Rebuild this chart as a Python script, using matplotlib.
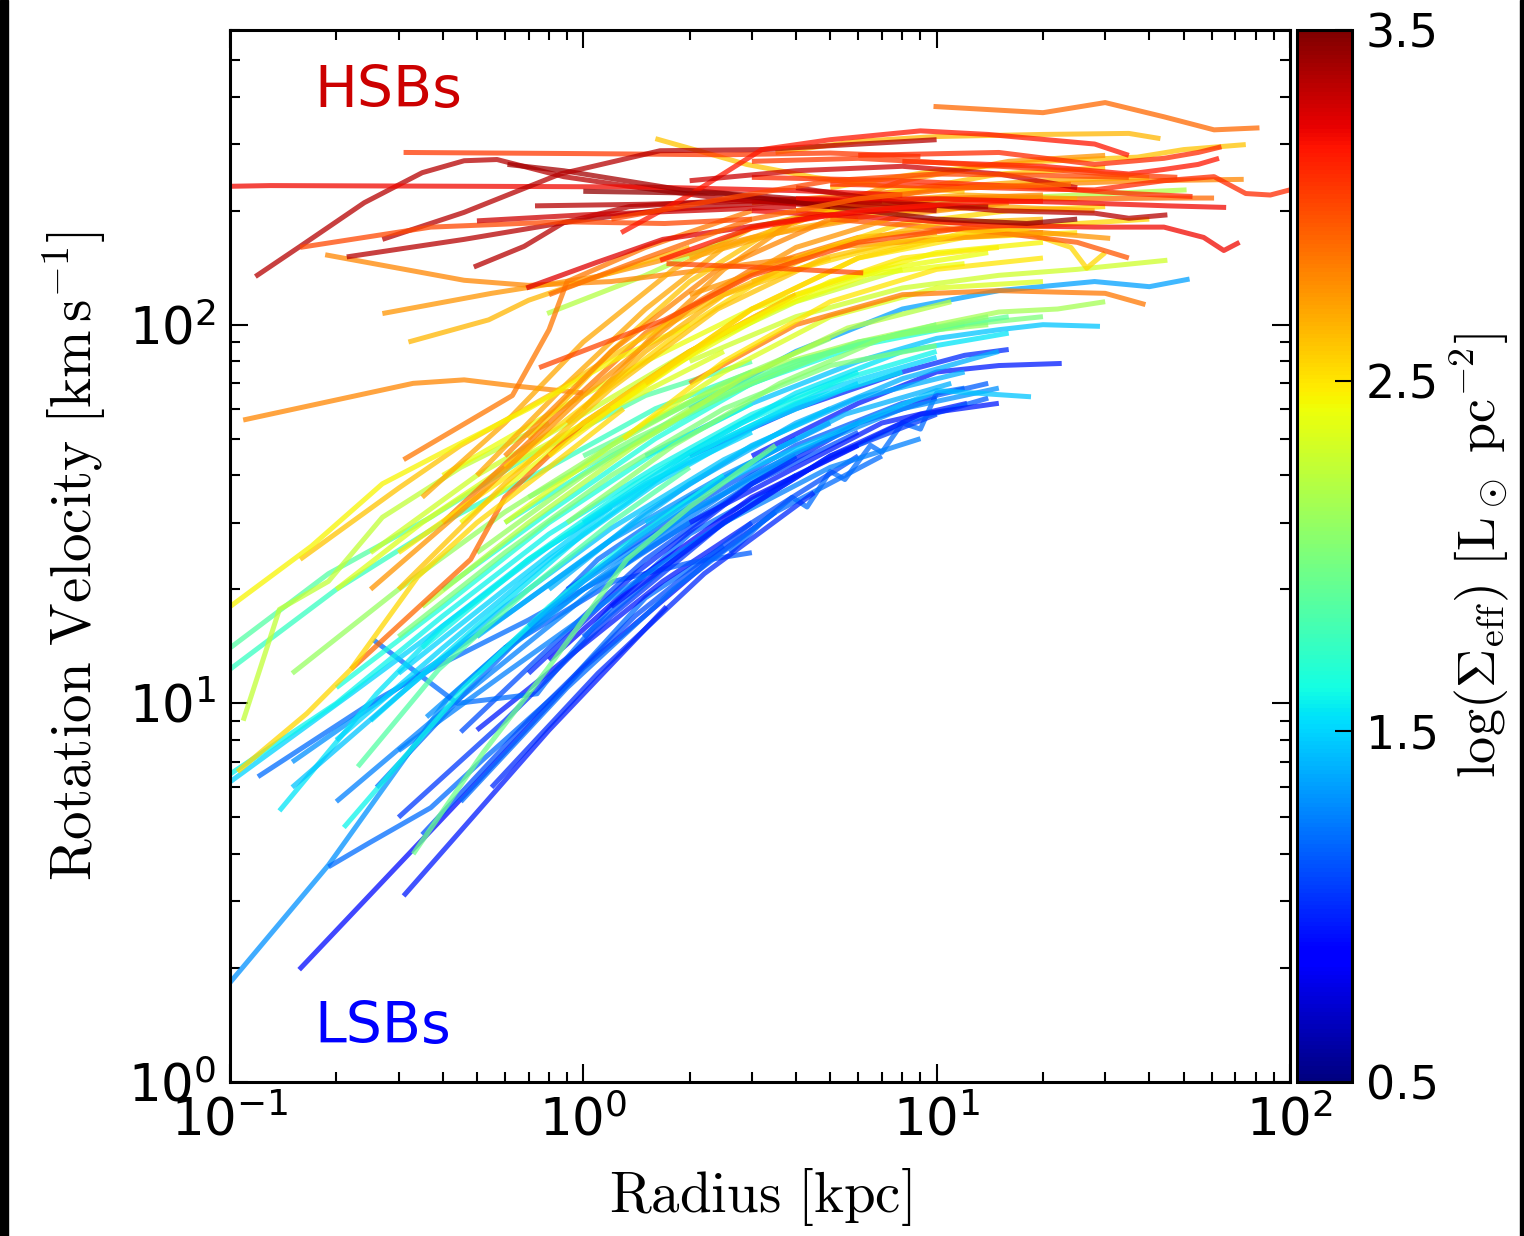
import numpy as np
import matplotlib
matplotlib.use("Agg")
import matplotlib.pyplot as plt
from matplotlib.patches import Rectangle

# rotation curves: (radius [kpc], velocity [km/s])
# grouped by rough colour band, each with its log surface brightness

hsb_sigma = [3.35, 3.2, 3.05, 3.4, 3.35, 3.35, 3.35, 3.35, 3.0, 3.15,
             3.1, 3.2, 3.35, 3.1, 3.2, 3.1, 3.15, 3.0, 3.0, 3.45,
             3.25, 3.15, 3.3, 3.3, 3.05, 2.9, 3.0]
hsb_curves = [
    [(0.118, 134), (0.158, 161), (0.24, 210), (0.35, 252), (0.46, 271), (0.57, 273), (0.88, 246), (1.35, 232), (2.5, 215), (5, 205)],
    [(0.1, 232), (0.13, 233), (0.5, 232), (1.5, 231), (4, 226), (8, 220)],
    [(0.31, 285), (1, 283), (2.5, 281), (5, 284), (9, 278)],
    [(0.61, 265), (0.88, 255), (1.9, 227), (4, 215), (8, 208), (14, 205)],
    [(0.27, 168), (0.46, 198), (0.86, 250), (1.65, 288), (3.2, 290), (10, 308)],
    [(0.214, 151), (0.46, 168), (0.88, 186), (1.67, 201), (3.5, 210), (7, 212)],
    [(0.49, 142), (0.68, 161), (0.88, 186), (1.35, 205), (3, 215), (6, 212)],
    [(0.73, 206), (1.5, 208), (3, 212), (6, 206), (10, 200)],
    [(0.158, 160), (0.37, 181), (0.88, 187), (1.7, 185), (3, 190)],
    [(1.28, 175), (2, 220), (3.2, 290), (5, 308), (9, 325), (14, 318), (28, 300), (35, 280)],
    [(5, 235), (10, 232), (20, 228), (28, 227), (44, 240), (61, 246), (75, 222), (88, 220), (100, 227)],
    [(3, 200), (8, 190), (14, 183), (28, 181), (44, 181), (57, 170), (65, 157), (72, 165)],
    [(4, 230), (8, 210), (15, 200), (28, 197), (35, 191), (45, 195)],
    [(3, 245), (8, 240), (20, 230), (35, 222), (53, 218)],
    [(4, 215), (10, 215), (25, 210), (45, 206), (66, 204)],
    [(6, 280), (15, 285), (28, 265), (44, 275), (55, 285), (64, 295)],
    [(8, 270), (20, 262), (35, 250), (44, 257), (55, 265), (63, 275)],
    [(0.75, 77), (1.7, 103), (3, 135), (6, 165), (12, 180), (20, 185)],
    [(1.72, 145), (3, 142), (6.2, 137)],
    [(1.0, 225), (2.5, 222), (5, 205), (10, 190), (18, 185), (25, 190)],
    [(0.69, 125), (1.09, 146), (1.68, 168), (2.9, 181), (5, 195), (10, 205)],
    [(1.65, 148), (3, 180), (6, 200), (12, 210), (20, 212)],
    [(2, 240), (4, 255), (8, 262), (15, 250), (25, 230)],
    [(0.5, 188), (1, 195), (2, 200), (4, 205)],
    [(3, 270), (6, 275), (10, 268), (20, 258), (30, 250), (48, 245)],
    [(0.8, 120), (1.5, 150), (3, 190), (6, 215), (12, 230), (24, 235)],
    [(1.2, 190), (2.5, 215), (5, 240), (10, 250), (20, 248), (35, 245)],
]

mid_sigma = [2.9, 2.65, 2.6, 2.8, 2.9, 2.85, 2.8, 2.75, 2.65, 2.8,
             2.85, 2.9, 2.6, 2.7, 2.7, 2.6, 2.85, 2.75, 2.55, 2.5,
             2.6, 2.55, 2.45, 2.7, 2.55, 2.95, 2.75, 2.5, 2.65, 2.45,
             2.75, 2.55, 2.6, 2.8, 2.5]
mid_curves = [
    [(9.8, 377), (20, 363), (30, 386), (44, 354), (61, 327), (82, 331)],
    [(3.5, 285), (6, 305), (10, 314), (20, 318), (35, 320), (43, 310)],
    [(5, 230), (10, 255), (20, 270), (37, 277), (50, 290), (75, 299)],
    [(3, 210), (8, 225), (20, 235), (40, 240), (74, 242)],
    [(4, 200), (10, 215), (25, 215), (45, 216), (61, 216)],
    [(2, 70), (4, 100), (8, 120), (15, 123), (30, 121), (39, 113)],
    [(0.186, 153), (0.46, 131), (0.7, 127), (1.2, 130), (2, 138), (4, 150)],
    [(0.27, 107), (0.55, 121), (1.09, 134), (1.67, 148), (3, 170), (6, 190)],
    [(0.32, 90), (0.54, 103), (0.7, 116), (1.1, 134), (2, 160)],
    [(0.109, 56), (0.33, 70), (0.46, 71.5), (0.63, 69), (1.0, 66)],
    [(0.31, 44), (0.63, 65), (0.8, 97), (0.9, 130), (1.5, 160), (3, 200)],
    [(0.22, 12.3), (0.48, 24), (0.6, 35), (1.0, 55), (2, 85), (4, 120)],
    [(1.6, 310), (2.9, 265), (4.5, 245), (7, 232), (12, 225)],
    [(0.35, 35), (0.6, 55), (1.0, 90), (1.8, 140), (3, 180), (6, 210), (12, 220), (25, 215)],
    [(0.5, 40), (0.9, 70), (1.5, 110), (2.5, 160), (5, 200), (10, 230), (20, 240), (40, 245)],
    [(0.7, 50), (1.2, 85), (2, 130), (3.5, 180), (7, 220), (15, 250), (30, 260)],
    [(0.4, 30), (0.8, 55), (1.5, 95), (3, 140), (6, 170), (12, 180), (20, 175)],
    [(1.0, 60), (1.6, 95), (2.5, 140), (4, 190), (8, 240), (16, 270), (30, 280)],
    [(0.6, 42), (1.1, 65), (2, 100), (4, 150), (8, 185), (16, 200), (30, 205)],
    [(0.8, 45), (1.5, 70), (3, 110), (6, 150), (12, 170), (25, 175)],
    [(0.158, 24), (0.3, 37), (0.45, 48), (0.8, 65), (1.4, 90), (2.5, 120), (5, 150)],
    [(0.105, 6.6), (0.165, 9.4), (0.22, 12.3), (0.34, 21.6), (0.5, 30), (0.8, 42), (1.3, 60)],
    [(0.1, 18), (0.17, 26), (0.27, 38), (0.4, 46), (0.7, 60), (1.2, 80), (2, 100)],
    [(2, 150), (4, 180), (8, 200), (15, 205), (28, 200)],
    [(3, 130), (6, 155), (10, 170), (18, 175), (24, 160), (26.6, 141), (30, 155)],
    [(5, 190), (15, 175), (25, 165), (35, 150)],
    [(2, 120), (5, 160), (12, 170), (20, 175), (31, 169)],
    [(0.3, 25), (0.5, 35), (1, 55), (2, 85), (4, 120), (8, 150), (15, 160)],
    [(0.9, 55), (1.5, 85), (2.5, 120), (5, 160), (10, 185), (20, 190)],
    [(1.2, 60), (2.5, 95), (5, 130), (10, 155), (20, 165)],
    [(0.25, 20), (0.5, 35), (1, 65), (2, 110), (4, 160), (8, 195), (16, 210)],
    [(1.5, 70), (3, 110), (6, 150), (12, 175), (25, 185), (40, 190)],
    [(0.3, 20), (0.6, 38), (1.2, 68), (2.4, 110), (4.8, 150), (10, 175)],
    [(0.6, 45), (1.2, 85), (2.4, 140), (5, 190), (10, 215), (20, 220)],
    [(1.3, 50), (2.5, 80), (5, 115), (10, 140), (20, 150)],
]

green_sigma = [2.2, 2.3, 2.15, 2.1, 2.0, 1.85, 1.75, 2.25, 1.85, 1.95,
               2.3, 2.4, 2.0, 1.9, 2.35, 2.35, 2.1, 2.4, 2.05, 2.2]
green_curves = [
    [(0.79, 107), (1.5, 135), (3, 181), (6, 205), (12, 213), (25, 220), (51, 227)],
    [(2, 80), (4, 105), (8, 125), (15, 135), (25, 140), (45, 148)],
    [(1.5, 55), (3, 75), (6, 90), (10, 100), (15, 108), (22, 110), (30, 115)],
    [(0.5, 25), (1, 40), (2, 60), (4, 80), (8, 95), (14, 100)],
    [(0.3, 15), (0.6, 25), (1.2, 40), (2.5, 60), (5, 78), (10, 88)],
    [(0.1, 14), (0.19, 22), (0.37, 31), (0.7, 45), (1.5, 65), (3, 80)],
    [(0.1, 12.3), (0.2, 20), (0.4, 30), (0.8, 42), (1.6, 60), (3, 75)],
    [(0.109, 9), (0.138, 17.7), (0.19, 21), (0.27, 31), (0.45, 42), (0.8, 55)],
    [(0.23, 6.8), (0.39, 12.3), (0.7, 20), (1.2, 30), (2, 42)],
    [(0.33, 4.0), (0.52, 7.4), (0.79, 12.3), (1.33, 24), (2, 33), (3.5, 48)],
    [(0.25, 25), (0.5, 40), (1, 58), (2, 85), (4, 115), (8, 140)],
    [(0.4, 40), (0.8, 58), (1.5, 80), (3, 110), (6, 135), (12, 145)],
    [(0.7, 35), (1.4, 50), (3, 70), (6, 90), (12, 100), (20, 105)],
    [(1, 45), (2, 62), (4, 80), (8, 95), (16, 105)],
    [(0.2, 20), (0.35, 30), (0.6, 42), (1.2, 60), (2.5, 85)],
    [(0.6, 30), (1.2, 48), (2.5, 75), (5, 105), (10, 125), (20, 130)],
    [(0.15, 12), (0.3, 20), (0.6, 32), (1.2, 48), (2.5, 70), (5, 92)],
    [(0.45, 30), (0.9, 50), (1.8, 78), (3.5, 110), (7, 140), (14, 155)],
    [(0.9, 30), (1.8, 48), (3.6, 70), (7, 92), (14, 105)],
    [(0.35, 18), (0.7, 30), (1.4, 48), (2.8, 72), (5.6, 98), (11, 115)],
]

cyan_sigma = [1.35, 1.45, 1.45, 1.5, 1.55, 1.6, 1.6, 1.5, 1.4, 1.65,
              1.7, 1.55, 1.4, 1.45, 1.5, 1.6, 1.4, 1.55, 1.65]
cyan_curves = [
    [(2, 60), (4, 85), (8, 110), (15, 123), (28, 130), (40, 126), (52, 132)],
    [(1.5, 45), (3, 62), (6, 80), (10, 92), (15, 97), (20, 100), (29, 99)],
    [(1.5, 30), (3, 42), (6, 55), (10, 67), (18.5, 64.5)],
    [(0.1, 6.2), (0.22, 10.6), (0.4, 16), (0.8, 26), (1.5, 38), (3, 52)],
    [(0.138, 5.2), (0.26, 10.6), (0.4, 16), (0.7, 24), (1.2, 33)],
    [(0.21, 4.7), (0.46, 11), (0.8, 18), (1.3, 26), (2.5, 40)],
    [(0.1, 6.5), (0.2, 10), (0.4, 17), (0.8, 28), (1.6, 42), (3, 58), (6, 75)],
    [(0.3, 12), (0.6, 20), (1.2, 33), (2.5, 50), (5, 68), (10, 82)],
    [(0.5, 15), (1, 24), (2, 38), (4, 55), (8, 72), (15, 85)],
    [(0.4, 20), (0.8, 32), (1.6, 50), (3, 70), (6, 88), (12, 100)],
    [(0.6, 30), (1.2, 45), (2.5, 65), (5, 85), (10, 100)],
    [(0.25, 9), (0.5, 16), (1, 28), (2, 45), (4, 62), (8, 75)],
    [(0.8, 20), (1.5, 32), (3, 48), (6, 64), (12, 75)],
    [(0.15, 6), (0.3, 10.5), (0.6, 18), (1.2, 29), (2.5, 44), (5, 60)],
    [(0.2, 8), (0.4, 14), (0.8, 24), (1.6, 38), (3.2, 55), (6, 70)],
    [(0.35, 14), (0.7, 24), (1.4, 38), (2.8, 55), (5.5, 72), (10, 85)],
    [(0.7, 16), (1.4, 27), (2.8, 42), (5.5, 58), (11, 70)],
    [(1, 30), (2, 46), (4, 66), (8, 85), (16, 95)],
    [(0.2, 11), (0.4, 18), (0.8, 30), (1.6, 46), (3, 62)],
]

blue_sigma = [1.3, 1.2, 0.9, 0.95, 1.2, 1.2, 1.3, 1.1, 0.95, 1.2,
              0.95, 1.0, 0.95, 1.2, 1.15, 1.05, 1.25, 1.0, 1.3, 1.15,
              0.9, 1.1, 1.2, 1.0, 1.25, 0.95, 1.15, 1.3]
blue_curves = [
    [(0.1, 1.83), (0.19, 3.74), (0.41, 10.2), (0.6, 14), (1.0, 20), (2, 30)],
    [(0.19, 3.7), (0.25, 4.3), (0.37, 5.3), (0.52, 7.1), (0.88, 11), (1.5, 19), (2.5, 26)],
    [(0.157, 1.98), (0.5, 6.2), (1.0, 12.4), (2.3, 24), (3.5, 32)],
    [(0.31, 3.1), (0.8, 8.5), (1.72, 18)],
    [(0.12, 6.4), (0.25, 10), (0.37, 12.3), (0.7, 16.6), (1.2, 22), (2, 30), (4, 45)],
    [(0.26, 6.0), (0.46, 10.6), (1.1, 24), (2, 35), (4, 50)],
    [(0.36, 9.2), (0.6, 14), (1.0, 21), (2, 32), (4, 45)],
    [(0.45, 8.4), (0.8, 14), (1.5, 24), (3, 38), (6, 52)],
    [(0.5, 8.5), (1.68, 21), (3, 30)],
    [(0.255, 14.7), (0.44, 10), (0.74, 10.6), (0.78, 11.3), (1.2, 18), (2, 28), (4, 40)],
    [(3, 45), (6, 62), (10, 75), (15, 78), (22.6, 79)],
    [(2, 45), (4, 60), (8, 75), (12, 83), (16, 86)],
    [(2, 30), (4, 42), (7, 55), (12.2, 62)],
    [(2.6, 25), (3.2, 30), (3.9, 35), (4.3, 33), (5, 41), (5.5, 39), (6.5, 48), (7, 46), (8, 55), (9, 53), (10, 66), (12, 68)],
    [(0.6, 14), (1.22, 21), (2, 23.5), (3, 25)],
    [(0.3, 5), (0.6, 9), (1.2, 17), (2.5, 30), (5, 45), (10, 58)],
    [(0.2, 5.5), (0.4, 9.5), (0.8, 16), (1.6, 27), (3, 40), (6, 55)],
    [(0.7, 12), (1.4, 22), (3, 38), (6, 55), (10, 64)],
    [(0.15, 7), (0.3, 11), (0.6, 17), (1.2, 27), (2.5, 40), (5, 55)],
    [(1, 15), (2, 26), (4, 40), (8, 55), (14, 64)],
    [(0.8, 13), (1.5, 22), (3, 35), (6, 48)],
    [(0.35, 4.5), (0.7, 9), (1.4, 17), (3, 30), (6, 45)],
    [(0.45, 5.5), (0.9, 11), (1.8, 20), (3.5, 32), (7, 45)],
    [(0.55, 6), (1.1, 12), (2.2, 22), (4.5, 36)],
    [(0.3, 7.5), (0.6, 12), (1.2, 19), (2.5, 30), (5, 42), (9, 50)],
    [(1.2, 18), (2.5, 30), (5, 45), (9, 58), (15, 62)],
    [(0.9, 20), (2, 33), (4, 48), (8, 62), (14, 70)],
    [(0.5, 12), (1, 20), (2, 32), (4, 46), (8, 60), (15, 68)],
]

sigma_min, sigma_max = 0.5, 3.5

fig = plt.figure(figsize=(15.24, 12.36), dpi=100)
ax = fig.add_axes([0.1509, 0.1246, 0.6955, 0.8511])
cax = fig.add_axes([0.8510, 0.1246, 0.0361, 0.8511])

cmap = plt.get_cmap("jet")
norm = matplotlib.colors.Normalize(vmin=sigma_min, vmax=sigma_max)

groups = [(blue_curves, blue_sigma), (cyan_curves, cyan_sigma),
          (green_curves, green_sigma), (mid_curves, mid_sigma),
          (hsb_curves, hsb_sigma)]
for curves, sigmas in groups:
    for pts, s in zip(curves, sigmas):
        r = [p[0] for p in pts]
        v = [p[1] for p in pts]
        ax.plot(r, v, color=cmap(norm(s)), lw=3.6, alpha=0.75,
                solid_capstyle="butt")

ax.set_xscale("log")
ax.set_yscale("log")
ax.set_xlim(0.1, 100)
ax.set_ylim(1, 600)

for sp in ax.spines.values():
    sp.set_linewidth(2.2)
ax.tick_params(which="both", direction="in", top=True, right=True,
               labelsize=37, width=1.5)
ax.tick_params(which="major", length=13, pad=10)
ax.tick_params(which="minor", length=7)

ax.set_xlabel(r"$\mathrm{Radius\ [kpc]}$", fontsize=41, math_fontfamily="cm",
              labelpad=14)
ax.set_ylabel(r"$\mathrm{Rotation\ Velocity\ [km\,s^{-1}]}$", fontsize=41,
              math_fontfamily="cm", labelpad=14)

ax.text(0.08, 0.927, "HSBs", transform=ax.transAxes, fontsize=41,
        color="#cc0000", ha="left", va="baseline")
ax.text(0.08, 0.037, "LSBs", transform=ax.transAxes, fontsize=41,
        color="#0000ff", ha="left", va="baseline")

sm = matplotlib.cm.ScalarMappable(norm=norm, cmap=cmap)
cb = fig.colorbar(sm, cax=cax, ticks=[0.5, 1.5, 2.5, 3.5])
cb.ax.tick_params(labelsize=33, direction="in", length=12, width=1.5, pad=10)
cb.outline.set_linewidth(2.2)
cb.set_label(r"$\log(\Sigma_{\rm eff})\ [\mathrm{L_\odot\ pc^{-2}}]$",
             fontsize=39, math_fontfamily="cm", labelpad=6)

# dark strips at the image edges
fig.patches.append(Rectangle((0, 0), 8 / 1524, 1, transform=fig.transFigure,
                             color="black", zorder=10))
fig.patches.append(Rectangle((1 - 4 / 1524, 0), 4 / 1524, 1,
                             transform=fig.transFigure, color="black", zorder=10))

fig.savefig("out.png", dpi=100, facecolor="white")
